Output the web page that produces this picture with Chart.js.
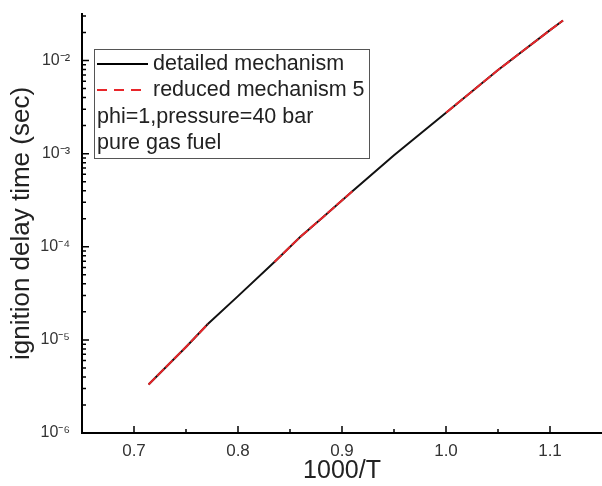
<!DOCTYPE html>
<html>
<head>
<meta charset="utf-8">
<script src="https://cdn.jsdelivr.net/npm/chart.js@4/dist/chart.umd.min.js"></script>
<style>
  html, body { margin: 0; padding: 0; background: #fff; }
  #wrap { width: 602px; height: 486px; }
</style>
</head>
<body>
<div id="wrap"><canvas id="ignition"></canvas></div>
<script>
// 1000/T values along the curve
const invTemp = [0.714, 0.75, 0.771, 0.8, 0.835, 0.86, 0.88, 0.91, 0.95, 1.0, 1.05, 1.1, 1.1125];
// ignition delay (s), detailed mechanism
const delayDetailed = [3.32e-6, 8.4e-6, 1.48e-5, 2.95e-5, 6.85e-5, 1.28e-4, 2.0e-4, 3.95e-4, 9.6e-4, 2.75e-3, 7.9e-3, 2.12e-2, 2.69e-2];
// reduced mechanism 5 (visible red stretches only)
const delayReduced = [3.32e-6, 8.4e-6, 1.48e-5, null, 6.85e-5, 1.28e-4, 2.0e-4, 3.95e-4, null, 2.75e-3, 7.9e-3, 2.12e-2, 2.69e-2];

const xMajor = [0.7, 0.8, 0.9, 1.0, 1.1];
const xMinor = [0.75, 0.85, 0.95, 1.05];
const yMajor = [1e-6, 1e-5, 1e-4, 1e-3, 1e-2];
const yLabels = ['10⁻⁶', '10⁻⁵', '10⁻⁴', '10⁻³', '10⁻²'];

const legendLines = ['detailed mechanism', 'reduced mechanism 5', 'phi=1,pressure=40 bar', 'pure gas fuel'];

const toPoints = ys => invTemp.map((x, i) => ({ x: x, y: ys[i] }));

// ticks drawn inward like the original plot
const inwardTicks = {
  id: 'inwardTicks',
  afterDraw(chart) {
    const { ctx, chartArea: a, scales: { x, y } } = chart;
    ctx.save();
    ctx.strokeStyle = '#000';
    ctx.lineWidth = 1.5;
    ctx.beginPath();
    xMajor.forEach(v => { const px = x.getPixelForValue(v); ctx.moveTo(px, a.bottom); ctx.lineTo(px, a.bottom - 7); });
    xMinor.forEach(v => { const px = x.getPixelForValue(v); ctx.moveTo(px, a.bottom); ctx.lineTo(px, a.bottom - 4); });
    yMajor.forEach(v => { const py = y.getPixelForValue(v); ctx.moveTo(a.left, py); ctx.lineTo(a.left + 7, py); });
    yMajor.forEach(d => {
      for (let k = 2; k <= 9; k++) {
        const v = d * k;
        if (v > y.max) break;
        const py = y.getPixelForValue(v);
        ctx.moveTo(a.left, py); ctx.lineTo(a.left + 4, py);
      }
    });
    ctx.stroke();
    ctx.restore();
  }
};

// boxed legend with the two extra note lines
const boxLegend = {
  id: 'boxLegend',
  afterDraw(chart) {
    const ctx = chart.ctx;
    ctx.save();
    ctx.strokeStyle = '#555';
    ctx.lineWidth = 1;
    ctx.strokeRect(94.5, 49.5, 275, 109);
    ctx.font = '21.5px "Liberation Sans", Arial, sans-serif';
    ctx.fillStyle = '#222';
    ctx.textBaseline = 'middle';
    const rows = [64, 90, 117, 143];
    ctx.lineWidth = 1.8;
    ctx.strokeStyle = '#000';
    ctx.beginPath(); ctx.moveTo(97, rows[0]); ctx.lineTo(148, rows[0]); ctx.stroke();
    ctx.strokeStyle = '#e8262a';
    ctx.setLineDash([10, 7]);
    ctx.beginPath(); ctx.moveTo(97, rows[1]); ctx.lineTo(148, rows[1]); ctx.stroke();
    ctx.setLineDash([]);
    ctx.fillText(legendLines[0], 153, rows[0]);
    ctx.fillText(legendLines[1], 153, rows[1]);
    ctx.fillText(legendLines[2], 97, rows[2]);
    ctx.fillText(legendLines[3], 97, rows[3]);
    ctx.restore();
  }
};

new Chart(document.getElementById('ignition'), {
  type: 'scatter',
  data: {
    datasets: [
      {
        label: 'detailed mechanism',
        data: toPoints(delayDetailed),
        showLine: true,
        borderColor: '#111',
        borderWidth: 2,
        pointRadius: 0,
        order: 2
      },
      {
        label: 'reduced mechanism 5',
        data: toPoints(delayReduced),
        showLine: true,
        spanGaps: false,
        borderColor: '#e8262a',
        borderWidth: 2,
        borderDash: [10, 2],
        pointRadius: 0,
        order: 1
      }
    ]
  },
  options: {
    responsive: true,
    maintainAspectRatio: false,
    animation: false,
    layout: { padding: { top: 14, right: 0, left: 0, bottom: 0 } },
    scales: {
      x: {
        type: 'linear',
        min: 0.65,
        max: 1.15,
        afterBuildTicks: s => { s.ticks = xMajor.map(v => ({ value: v })); },
        afterFit: s => { s.height = 53; },
        grid: { display: false },
        border: { display: true, color: '#000', width: 2 },
        ticks: {
          color: '#333',
          font: { family: '"Liberation Sans", Arial, sans-serif', size: 17 },
          padding: 0,
          callback: v => v.toFixed(1)
        },
        title: {
          display: true,
          text: '1000/T',
          color: '#222',
          font: { family: '"Liberation Sans", Arial, sans-serif', size: 25 },
          padding: { top: 0, bottom: 0 }
        }
      },
      y: {
        type: 'logarithmic',
        min: 1e-6,
        max: 0.0316,
        afterBuildTicks: s => { s.ticks = yMajor.map(v => ({ value: v })); },
        afterFit: s => { s.width = 82; },
        grid: { display: false },
        border: { display: true, color: '#000', width: 2 },
        ticks: {
          color: '#333',
          font: { family: '"Liberation Sans", Arial, sans-serif', size: 16 },
          padding: 4,
          callback: (v, i) => yLabels[i]
        },
        title: {
          display: true,
          text: 'ignition delay time (sec)',
          color: '#222',
          font: { family: '"Liberation Sans", Arial, sans-serif', size: 26 },
          padding: { top: 6, bottom: 0 }
        }
      }
    },
    plugins: {
      legend: { display: false },
      tooltip: { enabled: false }
    }
  },
  plugins: [inwardTicks, boxLegend]
});
</script>
</body>
</html>
